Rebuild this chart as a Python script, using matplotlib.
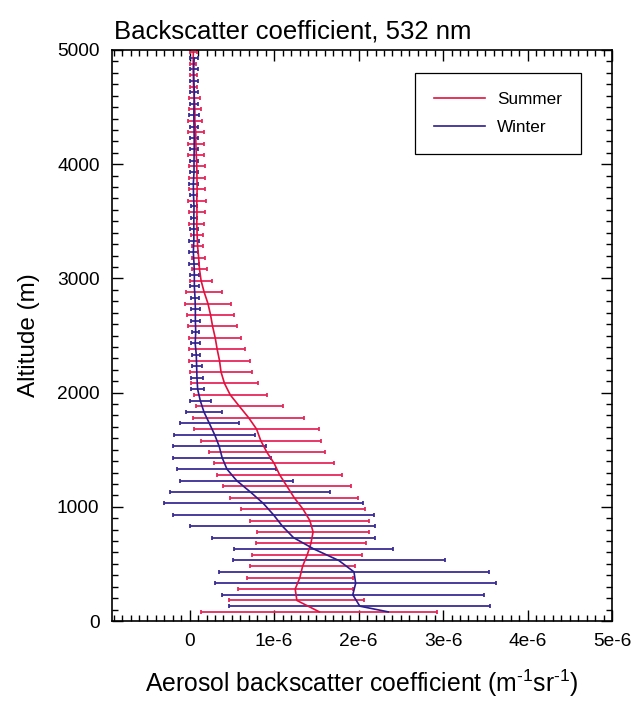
import matplotlib
matplotlib.use("Agg")
import matplotlib.pyplot as plt
from matplotlib.ticker import MultipleLocator, FixedLocator

plt.rcParams['font.family'] = ['Liberation Sans', 'DejaVu Sans']

# ---- data (backscatter in units of 1e-6 m^-1 sr^-1, altitude in m) ----
summer_alt = [80, 180, 280, 380, 480, 580, 680, 780, 880, 980,
              1080, 1180, 1280, 1380, 1480, 1580, 1680, 1780, 1880, 1980,
              2080, 2180, 2280, 2380, 2480, 2580, 2680, 2780, 2880, 2980,
              3080, 3180, 3280, 3380, 3480, 3580, 3680, 3780, 3880, 3980,
              4080, 4180, 4280, 4380, 4480, 4580, 4680, 4780, 4880, 4980]
summer_mean = [1.535, 1.269, 1.249, 1.304, 1.337, 1.392, 1.435, 1.461, 1.422, 1.341,
               1.237, 1.151, 1.065, 1.000, 0.912, 0.841, 0.792, 0.698, 0.588, 0.480,
               0.412, 0.371, 0.353, 0.325, 0.302, 0.271, 0.247, 0.216, 0.171, 0.135,
               0.116, 0.106, 0.094, 0.088, 0.084, 0.086, 0.084, 0.088, 0.086, 0.084,
               0.078, 0.073, 0.071, 0.061, 0.061, 0.055, 0.045, 0.043, 0.041, 0.043]
summer_std = [1.398, 0.798, 0.680, 0.629, 0.624, 0.651, 0.653, 0.667, 0.704, 0.737,
              0.755, 0.759, 0.743, 0.714, 0.684, 0.708, 0.737, 0.659, 0.514, 0.433,
              0.396, 0.367, 0.357, 0.333, 0.310, 0.290, 0.278, 0.271, 0.214, 0.131,
              0.088, 0.078, 0.067, 0.073, 0.088, 0.094, 0.104, 0.098, 0.094, 0.092,
              0.094, 0.096, 0.094, 0.084, 0.069, 0.063, 0.045, 0.043, 0.037, 0.043]

winter_alt = [130, 230, 330, 430, 530, 630, 730, 830, 930, 1030,
              1130, 1230, 1330, 1430, 1530, 1630, 1730, 1830, 1930, 2030,
              2130, 2230, 2330, 2430, 2530, 2630, 2730, 2830, 2930, 3030,
              3130, 3230, 3330, 3430, 3530, 3630, 3730, 3830, 3930, 4030,
              4130, 4230, 4330, 4430, 4530, 4630, 4730, 4830, 4930]
winter_mean = [2.014, 1.931, 1.965, 1.945, 1.765, 1.471, 1.229, 1.098, 0.992, 0.871,
               0.718, 0.555, 0.441, 0.384, 0.349, 0.296, 0.233, 0.169, 0.125, 0.094,
               0.086, 0.082, 0.078, 0.065, 0.071, 0.067, 0.067, 0.063, 0.055, 0.055,
               0.051, 0.043, 0.049, 0.049, 0.049, 0.051, 0.045, 0.043, 0.051, 0.051,
               0.053, 0.053, 0.051, 0.049, 0.051, 0.055, 0.049, 0.047, 0.053]
winter_std = [1.543, 1.551, 1.663, 1.600, 1.255, 0.941, 0.967, 1.098, 1.188, 1.180,
              0.949, 0.673, 0.586, 0.576, 0.551, 0.480, 0.351, 0.216, 0.125, 0.078,
              0.071, 0.059, 0.047, 0.053, 0.043, 0.055, 0.055, 0.047, 0.055, 0.055,
              0.059, 0.051, 0.057, 0.049, 0.037, 0.039, 0.045, 0.051, 0.051, 0.051,
              0.045, 0.045, 0.043, 0.057, 0.051, 0.047, 0.049, 0.047, 0.045]
# winter profile line continues slightly below the lowest error bar
winter_line_bottom_alt = 80
winter_line_bottom_val = 2.35

xtick_vals = [0, 1, 2, 3, 4, 5]
xtick_labels = ['0', '1e-6', '2e-6', '3e-6', '4e-6', '5e-6']
ytick_vals = [0, 1000, 2000, 3000, 4000, 5000]

SCALE = 1e-6
red = '#e3103e'
red_bar = '#e6285a'
blue = '#2d1c8c'
blue_bar = '#3a2c94'

fig = plt.figure(figsize=(6.43, 7.01), dpi=100)
ax = fig.add_axes([112/643, 80/701, 500/643, 571/701])

s_mean = [v * SCALE for v in summer_mean]
s_std = [v * SCALE for v in summer_std]
w_mean = [v * SCALE for v in winter_mean]
w_std = [v * SCALE for v in winter_std]

ax.errorbar(s_mean, summer_alt, xerr=s_std, fmt='none', ecolor=red_bar,
            elinewidth=1.3, capsize=1.2, capthick=1.3, zorder=2)
ax.errorbar(w_mean, winter_alt, xerr=w_std, fmt='none', ecolor=blue_bar,
            elinewidth=1.3, capsize=1.2, capthick=1.3, zorder=2)

ax.plot(s_mean, summer_alt, color=red, lw=1.2, zorder=3, label='Summer')
ax.plot([winter_line_bottom_val * SCALE] + w_mean,
        [winter_line_bottom_alt] + winter_alt, color=blue, lw=1.2, zorder=3,
        label='Winter')

ax.set_xlim(-0.92e-6, 5e-6)
ax.set_ylim(0, 5000)

ax.xaxis.set_major_locator(FixedLocator([v * SCALE for v in xtick_vals]))
ax.set_xticklabels(xtick_labels)
ax.xaxis.set_minor_locator(MultipleLocator(1e-7))
ax.yaxis.set_major_locator(FixedLocator(ytick_vals))
ax.set_yticklabels([str(v) for v in ytick_vals])
ax.yaxis.set_minor_locator(MultipleLocator(100))

ax.tick_params(which='both', direction='in', top=True, right=True,
               width=1.0, color='black')
ax.tick_params(which='major', length=8, labelsize=13.8, pad=9)
ax.tick_params(which='minor', length=4.5)
for sp in ax.spines.values():
    sp.set_linewidth(1.2)

ax.set_xlabel('Aerosol backscatter coefficient (m$^{\\mathregular{\u20101}}$sr$^{\\mathregular{\u20101}}$)',
              fontsize=17.8, labelpad=12)
ax.set_ylabel('Altitude (m)', fontsize=17.5, labelpad=12)
ax.set_title('Backscatter coefficient, 532 nm', fontsize=18.5, loc='left',
             pad=8, x=0.005)

leg = ax.legend(loc='upper right', bbox_to_anchor=(0.938, 0.96),
                borderaxespad=0, fontsize=12.3, fancybox=False,
                edgecolor='black', framealpha=1, handlelength=3.0,
                handletextpad=0.7, labelspacing=0.8, borderpad=1.1)
leg.get_frame().set_linewidth(0.9)
for h in leg.get_lines():
    h.set_linewidth(1.2)

fig.savefig('out.png', dpi=100)
